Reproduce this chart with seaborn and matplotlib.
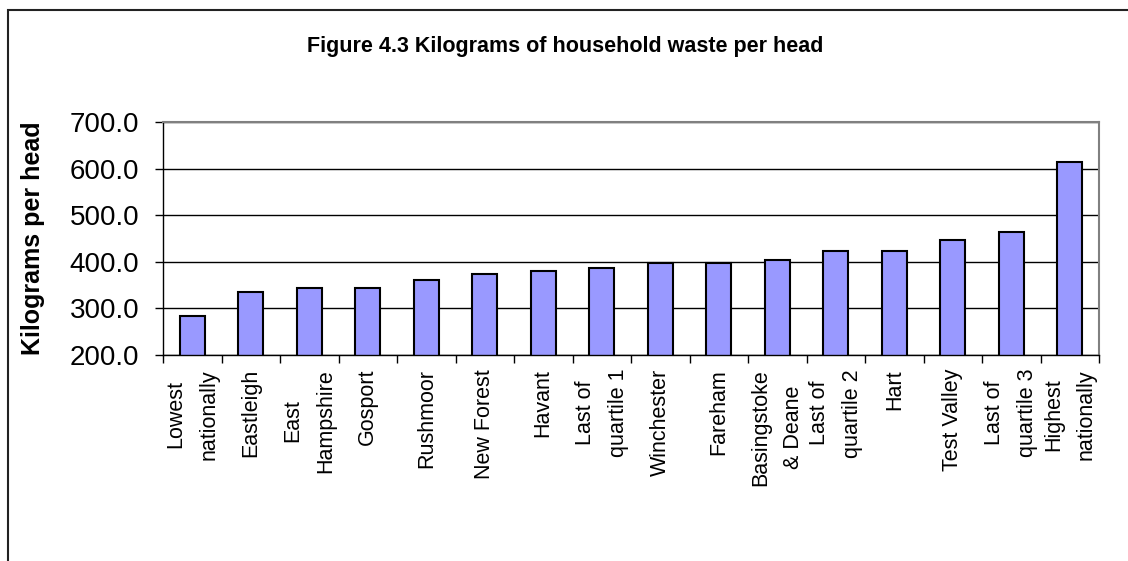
import numpy as np
import matplotlib
matplotlib.use('Agg')
import matplotlib.pyplot as plt
from matplotlib.patches import Rectangle
from matplotlib.ticker import FixedLocator
import pandas as pd
import seaborn as sns

categories = ['Lowest\nnationally', 'Eastleigh', 'East\nHampshire', 'Gosport',
              'Rushmoor', 'New Forest', 'Havant', 'Last of\nquartile 1',
              'Winchester', 'Fareham', 'Basingstoke\n& Deane', 'Last of\nquartile 2',
              'Hart', 'Test Valley', 'Last of\nquartile 3', 'Highest\nnationally']
kg_per_head = [284, 335, 343, 343, 361, 373, 381, 386,
               398, 398, 403, 424, 424, 447, 464, 615]
y_ticks = [200, 300, 400, 500, 600, 700]

sns.set_theme(style="white")
plt.rcParams['font.family'] = ['Liberation Sans', 'DejaVu Sans']
plt.rcParams['text.color'] = 'black'
plt.rcParams['axes.labelcolor'] = 'black'
plt.rcParams['xtick.color'] = 'black'
plt.rcParams['ytick.color'] = 'black'

df = pd.DataFrame({'Area': categories, 'Kg': kg_per_head})

fig = plt.figure(figsize=(11.28, 5.61), dpi=100)
ax = fig.add_axes([163 / 1128, 1 - 355 / 561, 936 / 1128, 233 / 561])

sns.barplot(data=df, x='Area', y='Kg', color='#9999FF', edgecolor='black',
            linewidth=1.5, width=0.43, saturation=1, ax=ax)

ax.set_ylim(200, 700)
ax.set_xlim(-0.5, len(categories) - 0.5)
ax.set_yticks(y_ticks)
ax.set_yticklabels([f'{v:.1f}' for v in y_ticks], fontsize=20)
ax.set_axisbelow(True)
ax.yaxis.grid(True, color='black', linewidth=1)
ax.xaxis.grid(False)

ax.set_xticks(range(len(categories)))
ax.set_xticklabels(categories, rotation=90, fontsize=15.5, ha='center', va='top',
                   multialignment='center', linespacing=1.75)
ax.xaxis.set_minor_locator(FixedLocator(np.arange(-0.5, len(categories), 1)))
ax.tick_params(axis='x', which='major', length=0, pad=10)
ax.tick_params(axis='x', which='minor', direction='out', length=6, width=1,
               color='black', bottom=True)
ax.tick_params(axis='y', direction='out', length=6, width=1, color='black',
               left=True, pad=11)

ax.set_xlabel('')
ax.set_ylabel('Kilograms per head', fontsize=18, fontweight='bold')
ax.yaxis.set_label_coords(-0.126, 0.5)

for side in ['top', 'right']:
    ax.spines[side].set_color('#808080')
    ax.spines[side].set_linewidth(1.5)
for side in ['left', 'bottom']:
    ax.spines[side].set_color('black')
    ax.spines[side].set_linewidth(1)

fig.text(565 / 1128, 1 - 52 / 561, 'Figure 4.3 Kilograms of household waste per head',
         ha='center', va='baseline', fontsize=15.5, fontweight='bold')

fig.add_artist(Rectangle((7.5 / 1128, -0.1), 1.5, 1 - 10 / 561 + 0.1,
                         transform=fig.transFigure, fill=False,
                         edgecolor='#222222', linewidth=1.5))

fig.savefig('out.png', dpi=100)
